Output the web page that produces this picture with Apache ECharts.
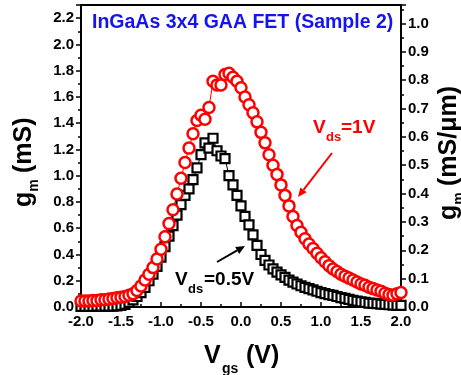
<!DOCTYPE html>
<html>
<head>
<meta charset="utf-8">
<script src="https://cdn.jsdelivr.net/npm/echarts@6/dist/echarts.min.js"></script>
<style>
  html, body { margin: 0; padding: 0; background: #fff; }
  #chart { width: 461px; height: 375px; }
</style>
</head>
<body>
<div id="chart"></div>
<script>
// gate voltage (V)
const vgs = [
  -2.00, -1.95, -1.90, -1.85, -1.80, -1.75, -1.70, -1.65, -1.60, -1.55,
  -1.50, -1.45, -1.40, -1.35, -1.30, -1.25, -1.20, -1.15, -1.10, -1.05,
  -1.00, -0.95, -0.90, -0.85, -0.80, -0.75, -0.70, -0.65, -0.60, -0.55,
  -0.50, -0.45, -0.40, -0.35, -0.30, -0.25, -0.20, -0.15, -0.10, -0.05,
   0.00,  0.05,  0.10,  0.15,  0.20,  0.25,  0.30,  0.35,  0.40,  0.45,
   0.50,  0.55,  0.60,  0.65,  0.70,  0.75,  0.80,  0.85,  0.90,  0.95,
   1.00,  1.05,  1.10,  1.15,  1.20,  1.25,  1.30,  1.35,  1.40,  1.45,
   1.50,  1.55,  1.60,  1.65,  1.70,  1.75,  1.80,  1.85,  1.90,  1.95,
   2.00
]
// gm (mS) at Vds = 1V
const gmVds1 = [
  0.045, 0.045, 0.045, 0.05, 0.05, 0.055, 0.055, 0.06, 0.065, 0.07,
  0.075, 0.08, 0.09, 0.10, 0.125, 0.16, 0.205, 0.25, 0.30, 0.365,
  0.44, 0.535, 0.635, 0.74, 0.86, 0.98, 1.10, 1.21, 1.32, 1.42,
  1.46, 1.43, 1.52, 1.72, 1.69, 1.69, 1.77, 1.78, 1.75, 1.72,
  1.67, 1.60, 1.54, 1.48, 1.41, 1.33, 1.25, 1.16, 1.08, 1.01,
  0.93, 0.85, 0.77, 0.69, 0.62, 0.57, 0.52, 0.48, 0.445, 0.41,
  0.375, 0.345, 0.315, 0.29, 0.27, 0.25, 0.235, 0.22, 0.205, 0.19,
  0.175, 0.165, 0.15, 0.14, 0.13, 0.12, 0.105, 0.095, 0.09, 0.10,
  0.11
]
// gm (mS) at Vds = 0.5V
const gmVds05 = [
  0.005, 0.005, 0.005, 0.005, 0.006, 0.006, 0.006, 0.007, 0.007, 0.008,
  0.012, 0.02, 0.035, 0.055, 0.08, 0.11, 0.15, 0.20, 0.25, 0.31,
  0.38, 0.46, 0.54, 0.62, 0.70, 0.78, 0.85, 0.90, 0.97, 1.06,
  1.16, 1.25, 1.21, 1.285, 1.19, 1.15, 1.13, 1.00, 0.93, 0.85,
  0.77, 0.69, 0.625, 0.55, 0.47, 0.40, 0.355, 0.32, 0.29, 0.265,
  0.245, 0.225, 0.205, 0.19, 0.175, 0.162, 0.15, 0.14, 0.13, 0.12,
  0.11, 0.102, 0.095, 0.088, 0.08, 0.072, 0.065, 0.058, 0.05, 0.045,
  0.04, 0.035, 0.03, 0.027, 0.025, 0.022, 0.02, 0.017, 0.015, 0.013,
  0.012
]

const FONT = '"Liberation Sans", Arial, sans-serif'
const chart = echarts.init(document.getElementById('chart'))

// text piece, y is the baseline
function txt(x, y, text, size, color) {
  return {
    type: 'text', x: x, y: y - size * 0.36,
    style: { text: text, font: 'bold ' + size + 'px ' + FONT, fill: color, textVerticalAlign: 'middle' }
  }
}

// arrow with a filled head at (x2, y2)
function arrow(x1, y1, x2, y2, color) {
  const a = Math.atan2(y2 - y1, x2 - x1)
  const len = 9, half = 4
  const bx = x2 - len * Math.cos(a), by = y2 - len * Math.sin(a)
  return [
    { type: 'line', shape: { x1: x1, y1: y1, x2: bx, y2: by }, style: { stroke: color, lineWidth: 2 } },
    {
      type: 'polygon',
      shape: { points: [[x2, y2], [bx - half * Math.sin(a), by + half * Math.cos(a)], [bx + half * Math.sin(a), by - half * Math.cos(a)]] },
      style: { fill: color }
    }
  ]
}

const axisText = { color: '#000', fontWeight: 'bold', fontSize: 15, fontFamily: FONT }
const tickLine = { color: '#000', width: 1.5 }

const option = {
  backgroundColor: '#fff',
  animation: false,
  grid: { left: 81, right: 60, top: 5, bottom: 68, show: true, borderColor: '#000', borderWidth: 2 },
  xAxis: {
    type: 'value', min: -2, max: 2, interval: 0.5,
    axisLine: { onZero: false, lineStyle: { color: '#000', width: 2 } },
    axisTick: { inside: true, length: 5, lineStyle: tickLine },
    minorTick: { show: true, splitNumber: 2, length: 3, lineStyle: tickLine },
    splitLine: { show: false },
    axisLabel: Object.assign({ margin: 7, formatter: v => v.toFixed(1) }, axisText)
  },
  yAxis: [
    {
      type: 'value', min: 0, max: 2.3, interval: 0.2, position: 'left',
      axisLine: { show: true, onZero: false, lineStyle: { color: '#000', width: 2 } },
      axisTick: { show: true, length: 5, lineStyle: tickLine },
      minorTick: { show: true, splitNumber: 2, length: 3, lineStyle: tickLine },
      splitLine: { show: false },
      axisLabel: Object.assign({ margin: 7, showMaxLabel: false, formatter: v => v.toFixed(1) }, axisText)
    },
    {
      type: 'value', min: 0, max: 1.065, interval: 0.1, position: 'right',
      axisLine: { show: true, onZero: false, lineStyle: { color: '#000', width: 2 } },
      axisTick: { show: true, length: 5, lineStyle: tickLine },
      minorTick: { show: true, splitNumber: 2, length: 3, lineStyle: tickLine },
      splitLine: { show: false },
      axisLabel: Object.assign({ margin: 7, showMaxLabel: false, formatter: v => v.toFixed(1) }, axisText)
    }
  ],
  series: [
    {
      name: 'Vds=0.5V', type: 'line', yAxisIndex: 0,
      data: vgs.map((v, i) => [v, gmVds05[i]]),
      symbol: 'rect', symbolSize: 9, showAllSymbol: true,
      lineStyle: { color: '#000', width: 1 },
      itemStyle: { color: '#fff', borderColor: '#000', borderWidth: 2.2 }
    },
    {
      name: 'Vds=1V', type: 'line', yAxisIndex: 0,
      data: vgs.map((v, i) => [v, gmVds1[i]]),
      symbol: 'circle', symbolSize: 11, showAllSymbol: true,
      lineStyle: { color: '#ff0000', width: 1 },
      itemStyle: { color: '#fff', borderColor: '#ff0000', borderWidth: 2.5 }
    }
  ],
  graphic: [
    // title
    txt(92, 29.5, 'InGaAs 3x4 GAA FET (Sample 2)', 19.5, '#1414f0'),
    // x axis title
    txt(204, 365, 'V', 25, '#000'),
    txt(222, 374, 'gs', 14, '#000'),
    txt(246, 365, '(V)', 25, '#000'),
    // left axis title, rotated
    {
      type: 'group', x: 33, y: 207, rotation: Math.PI / 2,
      children: [txt(0, 0, 'g', 25, '#000'), txt(15.3, 6, 'm', 14, '#000'), txt(34, 0, '(mS)', 25, '#000')]
    },
    // right axis title, rotated
    {
      type: 'group', x: 458, y: 220, rotation: Math.PI / 2,
      children: [txt(0, 0, 'g', 25, '#000'), txt(15.3, 6, 'm', 14, '#000'), txt(34, 0, '(mS/\u03bcm)', 25, '#000')]
    },
    // annotations
    txt(313, 135, 'V', 19, '#ff0000'),
    txt(326, 142, 'ds', 13, '#ff0000'),
    txt(341, 135, '=1V', 19, '#ff0000'),
    ...arrow(332, 153, 298, 197, '#ff0000'),
    txt(175, 287, 'V', 19, '#000'),
    txt(188, 294, 'ds', 13, '#000'),
    txt(204, 287, '=0.5V', 19, '#000'),
    ...arrow(217, 262, 245, 246, '#000')
  ]
}
chart.setOption(option)
</script>
</body>
</html>
